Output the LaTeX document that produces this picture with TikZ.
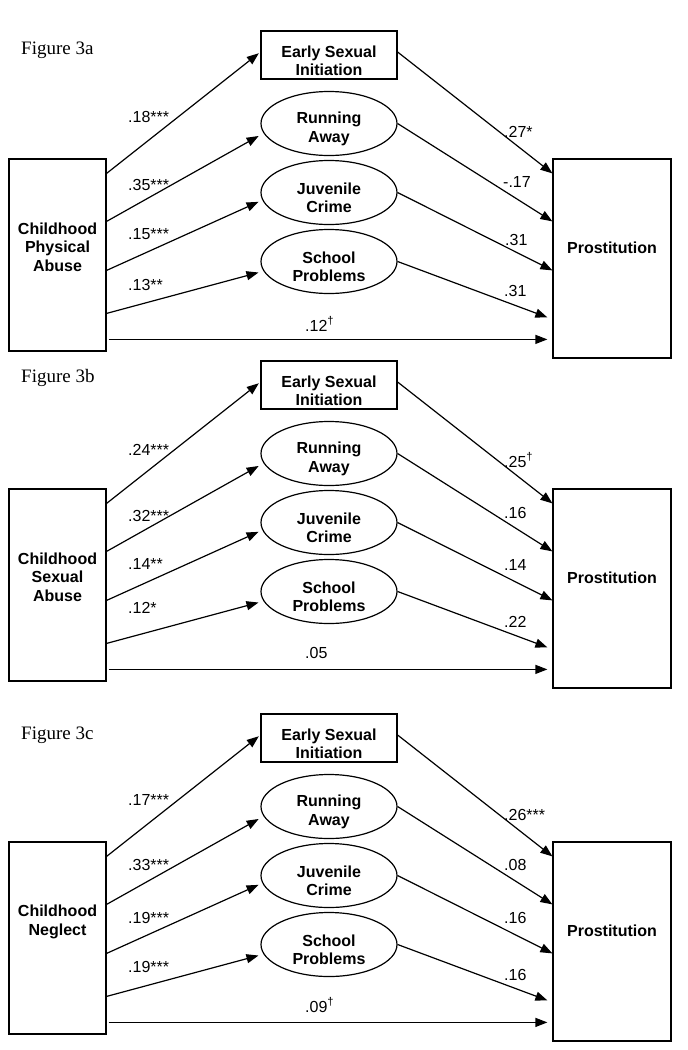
\documentclass[tikz,border=0pt]{standalone}
\usepackage{fontspec}
\setmainfont{Liberation Sans}
\newfontfamily\timesfont{Liberation Serif}
\usetikzlibrary{arrows.meta,shapes.geometric}
\begin{document}
\begin{tikzpicture}[x=1pt,y=-1pt,
  box/.style={draw,line width=1.2pt,inner sep=0pt},
  nodetext/.style={align=center,font=\bfseries\fontsize{16}{18.5}\selectfont},
  oval/.style={draw,ellipse,line width=1.2pt,minimum width=136pt,minimum height=64pt,inner sep=0pt,
    label={[nodetext,yshift=-5.5pt]center:#1}},
  leftbox/.style={box,minimum width=97pt,minimum height=192pt},
  esibox/.style={box,minimum width=136pt,minimum height=48pt,
    label={[nodetext,yshift=-6pt]center:Early Sexual\\Initiation}},
  probox/.style={box,minimum width=118pt,minimum height=199pt,
    label={[nodetext,yshift=11pt]center:Prostitution}},
  coef/.style={anchor=west,inner sep=0pt,font=\fontsize{16}{18}\selectfont},
  arr/.style={draw,line width=1.2pt,-{Triangle[length=12pt,width=9pt]}},
  figlab/.style={anchor=west,inner sep=0pt,font=\timesfont\fontsize{19}{22}\selectfont}]
\useasboundingbox[fill=white] (0,0) rectangle (688,1050);

% ---------------- Panel a ----------------
\begin{scope}
\node[figlab] (a-fig) at (21,50) {Figure 3a};
\node[leftbox,label={[nodetext,yshift=8pt]center:Childhood\\Physical\\Abuse}] (a-L) at (57.5,255) {};
\node[esibox] (a-E) at (329,55) {};
\node[oval={Running\\Away}] (a-R) at (329,123.5) {};
\node[oval={Juvenile\\Crime}] (a-J) at (329,192.5) {};
\node[oval={School\\Problems}] (a-S) at (329,261.5) {};
\node[probox] (a-P) at (612,258.5) {};
\draw[arr,shorten >=2pt] ([yshift=-15pt]a-L.north east) -- ([yshift=3pt]a-E.west);
\draw[arr,shorten >=2pt] ([yshift=-63pt]a-L.north east) -- ([yshift=-11.5pt]a-R.west);
\draw[arr,shorten >=2pt] ([yshift=-112pt]a-L.north east) -- ([yshift=-8.5pt]a-J.west);
\draw[arr,shorten >=2pt] ([yshift=-155pt]a-L.north east) -- ([yshift=-10.5pt]a-S.west);
\draw[arr] ([xshift=2pt,yshift=-181pt]a-L.north east) -- ([xshift=-5pt,yshift=-181pt]a-P.north west);
\draw[arr] ([yshift=3pt]a-E.east) -- ([yshift=-15pt]a-P.north west);
\draw[arr] (a-R.east) -- ([yshift=-63pt]a-P.north west);
\draw[arr] (a-J.east) -- ([yshift=-112pt]a-P.north west);
\draw[arr] (a-S.east) -- ([xshift=-5pt,yshift=-159pt]a-P.north west);
\node[coef] (a-c1) at (128,117) {.18***};
\node[coef] (a-c2) at (128,185) {.35***};
\node[coef] (a-c3) at (128,234) {.15***};
\node[coef] (a-c4) at (128,285) {.13**};
\node[coef] (a-c5) at (305,324) {.12\textsuperscript{†}};
\node[coef] (a-d1) at (504,132) {.27*};
\node[coef] (a-d2) at (503,182) {-.17};
\node[coef] (a-d3) at (505,240) {.31};
\node[coef] (a-d4) at (504,291) {.31};
\end{scope}

% ---------------- Panel b ----------------
\begin{scope}[shift={(0,330)}]
\node[figlab] (b-fig) at (21,48) {Figure 3b};
\node[leftbox,label={[nodetext,yshift=8pt]center:Childhood\\Sexual\\Abuse}] (b-L) at (57.5,255) {};
\node[esibox] (b-E) at (329,55) {};
\node[oval={Running\\Away}] (b-R) at (329,123.5) {};
\node[oval={Juvenile\\Crime}] (b-J) at (329,192.5) {};
\node[oval={School\\Problems}] (b-S) at (329,261.5) {};
\node[probox] (b-P) at (612,258.5) {};
\draw[arr,shorten >=2pt] ([yshift=-15pt]b-L.north east) -- ([yshift=3pt]b-E.west);
\draw[arr,shorten >=2pt] ([yshift=-63pt]b-L.north east) -- ([yshift=-11.5pt]b-R.west);
\draw[arr,shorten >=2pt] ([yshift=-112pt]b-L.north east) -- ([yshift=-8.5pt]b-J.west);
\draw[arr,shorten >=2pt] ([yshift=-155pt]b-L.north east) -- ([yshift=-10.5pt]b-S.west);
\draw[arr] ([xshift=2pt,yshift=-181pt]b-L.north east) -- ([xshift=-5pt,yshift=-181pt]b-P.north west);
\draw[arr] ([yshift=3pt]b-E.east) -- ([yshift=-15pt]b-P.north west);
\draw[arr] (b-R.east) -- ([yshift=-63pt]b-P.north west);
\draw[arr] (b-J.east) -- ([yshift=-112pt]b-P.north west);
\draw[arr] (b-S.east) -- ([xshift=-5pt,yshift=-159pt]b-P.north west);
\node[coef] (b-c1) at (128,120) {.24***};
\node[coef] (b-c2) at (128,186) {.32***};
\node[coef] (b-c3) at (128,234) {.14**};
\node[coef] (b-c4) at (128,278) {.12*};
\node[coef] (b-c5) at (305,323) {.05};
\node[coef] (b-d1) at (504,130) {.25\textsuperscript{†}};
\node[coef] (b-d2) at (504,183) {.16};
\node[coef] (b-d3) at (504,235) {.14};
\node[coef] (b-d4) at (504,292) {.22};
\end{scope}

% ---------------- Panel c ----------------
\begin{scope}[shift={(0,683)}]
\node[figlab] (c-fig) at (21,52) {Figure 3c};
\node[leftbox,label={[nodetext,yshift=16pt]center:Childhood\\Neglect}] (c-L) at (57.5,255) {};
\node[esibox] (c-E) at (329,55) {};
\node[oval={Running\\Away}] (c-R) at (329,123.5) {};
\node[oval={Juvenile\\Crime}] (c-J) at (329,192.5) {};
\node[oval={School\\Problems}] (c-S) at (329,261.5) {};
\node[probox] (c-P) at (612,258.5) {};
\draw[arr,shorten >=2pt] ([yshift=-15pt]c-L.north east) -- ([yshift=3pt]c-E.west);
\draw[arr,shorten >=2pt] ([yshift=-63pt]c-L.north east) -- ([yshift=-11.5pt]c-R.west);
\draw[arr,shorten >=2pt] ([yshift=-112pt]c-L.north east) -- ([yshift=-8.5pt]c-J.west);
\draw[arr,shorten >=2pt] ([yshift=-155pt]c-L.north east) -- ([yshift=-10.5pt]c-S.west);
\draw[arr] ([xshift=2pt,yshift=-181pt]c-L.north east) -- ([xshift=-5pt,yshift=-181pt]c-P.north west);
\draw[arr] ([yshift=3pt]c-E.east) -- ([yshift=-15pt]c-P.north west);
\draw[arr] (c-R.east) -- ([yshift=-63pt]c-P.north west);
\draw[arr] (c-J.east) -- ([yshift=-112pt]c-P.north west);
\draw[arr] (c-S.east) -- ([xshift=-5pt,yshift=-159pt]c-P.north west);
\node[coef] (c-c1) at (128,117) {.17***};
\node[coef] (c-c2) at (128,182) {.33***};
\node[coef] (c-c3) at (128,235) {.19***};
\node[coef] (c-c4) at (128,284) {.19***};
\node[coef] (c-c5) at (305,322) {.09\textsuperscript{†}};
\node[coef] (c-d1) at (504,132) {.26***};
\node[coef] (c-d2) at (504,182) {.08};
\node[coef] (c-d3) at (504,235) {.16};
\node[coef] (c-d4) at (504,292) {.16};
\end{scope}
\end{tikzpicture}
\end{document}
